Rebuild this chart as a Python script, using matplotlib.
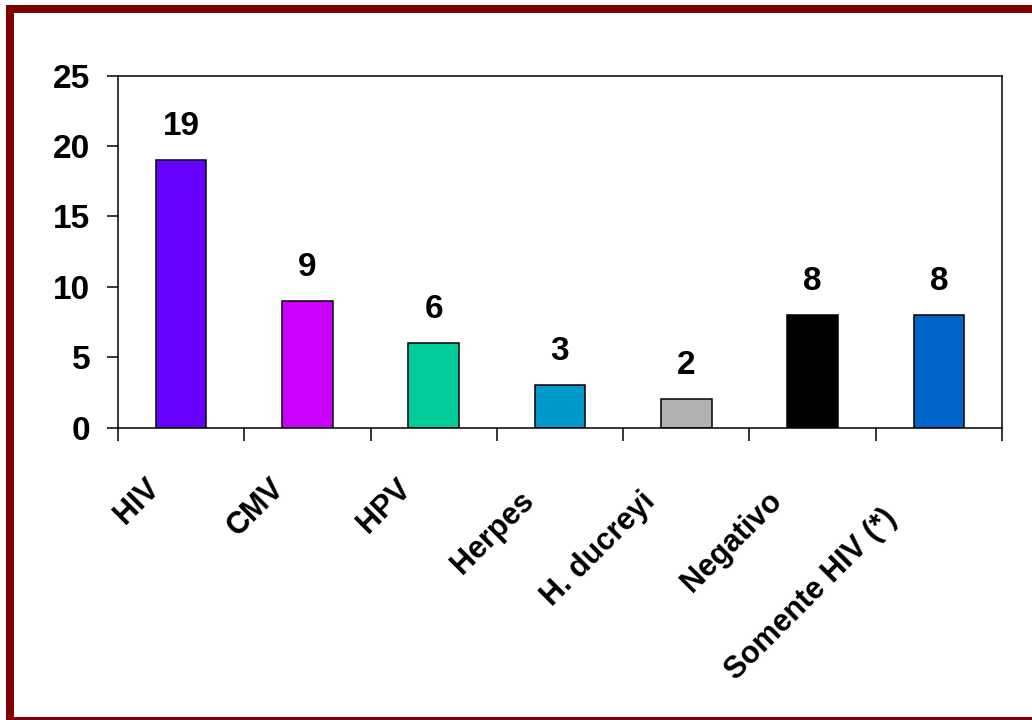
import matplotlib
matplotlib.use('Agg')
import matplotlib.pyplot as plt
from matplotlib.patches import Rectangle
from matplotlib.transforms import offset_copy
import numpy as np

categories = ['HIV', 'CMV', 'HPV', 'Herpes', 'H. ducreyi', 'Negativo', 'Somente HIV (*)']
counts = [19, 9, 6, 3, 2, 8, 8]
colors = ['#6600FF', '#CC00FF', '#00CC99', '#0099CC', '#B2B2B2', '#000000', '#0066CC']

# centre of each rotated label, in pixels from (bar centre, axis line)
label_shift = [(-44, -74), (-51, -80), (-49, -79), (-67, -105), (-88, -122), (-81, -114), (-128, -167)]

num_font = {'family': 'Liberation Sans', 'weight': 'bold', 'size': 24}

fig = plt.figure(figsize=(10.32, 7.2), dpi=100)
ax = fig.add_axes([118 / 1032, 1 - 427.5 / 720, 884 / 1032, 352 / 720])

x = np.arange(len(categories))
ax.bar(x, counts, width=0.4, color=colors, edgecolor='black', linewidth=1.1)

for xi, v in zip(x, counts):
    ax.annotate(str(v), (xi, v), xytext=(0, 18), textcoords='offset points',
                ha='center', va='baseline', **num_font)

ax.set_xlim(-0.5, len(categories) - 0.5)
ax.set_ylim(0, 25)
ax.set_yticks([0, 5, 10, 15, 20, 25])
ax.set_yticklabels([str(t) for t in [0, 5, 10, 15, 20, 25]], fontdict=num_font)
ax.tick_params(axis='y', direction='out', length=8, width=1.1, pad=12)

# category boundaries carry the tick marks, labels are drawn by hand
ax.set_xticks(np.arange(-0.5, len(categories), 1.0))
ax.set_xticklabels([])
ax.tick_params(axis='x', direction='out', length=9, width=1.1)

for xi, name, (dx, dy) in zip(x, categories, label_shift):
    tr = offset_copy(ax.get_xaxis_transform(), fig=fig, x=dx, y=dy, units='dots')
    ax.text(xi, 0, name, transform=tr, rotation=45, rotation_mode='anchor',
            ha='center', va='center', fontsize=22, fontweight='bold',
            family='Liberation Sans')

for s in ax.spines.values():
    s.set_linewidth(1.1)
    s.set_color('black')

# dark red frame around the whole figure
frame = Rectangle((10 / 1032, 1 - 721 / 720), 1030 / 1032, 712 / 720,
                  transform=fig.transFigure, fill=False, edgecolor='#800000',
                  linewidth=8 * 72 / 100, clip_on=False)
fig.add_artist(frame)

fig.savefig('out.png', dpi=100, facecolor='white')
